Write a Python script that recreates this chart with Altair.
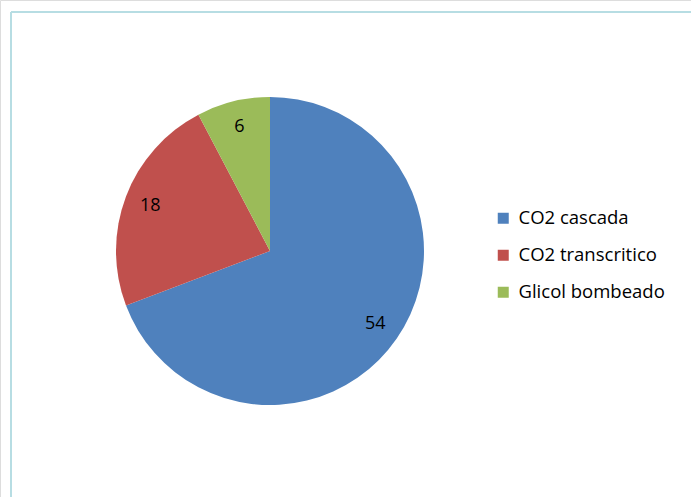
import altair as alt
import pandas as pd

categories = ["CO2 cascada", "CO2 transcritico", "Glicol bombeado"]
values = [54, 18, 6]
colors = ["#4F81BD", "#C0504D", "#9BBB59"]

df = pd.DataFrame({"cat": categories, "val": values, "ord": [0, 1, 2]})

cx, cy = 270, 251

base = alt.Chart(df).encode(
    theta=alt.Theta("val:Q", stack=True),
    order=alt.Order("ord:Q"),
    x=alt.value(cx),
    y=alt.value(cy),
)

arcs = base.mark_arc(outerRadius=154).encode(
    color=alt.Color(
        "cat:N",
        scale=alt.Scale(domain=categories, range=colors),
        sort=categories,
        legend=alt.Legend(
            title=None,
            orient="none",
            legendX=494,
            legendY=209,
            symbolType="square",
            symbolSize=121,
            symbolStrokeWidth=0,
            labelFontSize=18.5,
            labelFont="Open Sans",
            labelColor="#000000",
            labelOffset=6,
            rowPadding=18,
            labelLimit=300,
        ),
    )
)

labels = base.mark_text(radius=128, fontSize=18, font="Open Sans", color="#000000").encode(
    text=alt.Text("val:Q")
)

frame_top = alt.Chart(df).mark_rule(color="#B7DDE3", strokeWidth=2).encode(
    x=alt.value(11), x2=alt.value(691), y=alt.value(12)
)
frame_left = alt.Chart(df).mark_rule(color="#B7DDE3", strokeWidth=2).encode(
    x=alt.value(11), y=alt.value(12), y2=alt.value(497)
)

chart = (
    alt.layer(frame_top, frame_left, arcs, labels)
    .properties(width=691, height=497, padding=0, autosize=alt.AutoSizeParams(type="none"))
    .configure_view(stroke=None)
    .configure(background="white")
)

chart.save("out.html", embed_options={"renderer": "svg", "actions": False})
